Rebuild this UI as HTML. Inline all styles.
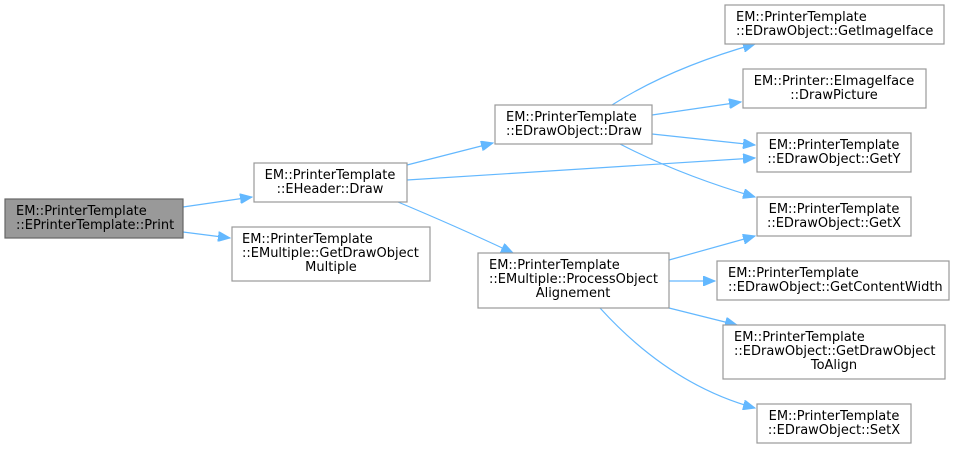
<!DOCTYPE html>
<html><head><meta charset="utf-8"><style>
body{margin:0;background:#fff}
text{font-family:"DejaVu Sans","Liberation Sans",sans-serif;font-size:13px;fill:#000}
.b{fill:#fff;stroke:#999;stroke-width:1.2}
.e{fill:none;stroke:#63b8ff;stroke-width:1.2}
.a{fill:#63b8ff;stroke:#63b8ff}
</style></head><body>
<svg width="957" height="451" xmlns="http://www.w3.org/2000/svg">
<defs><marker id="m" markerWidth="13" markerHeight="10" refX="12" refY="5" orient="auto" markerUnits="userSpaceOnUse"><path d="M0,0 L12,5 L0,10 z" class="a"/></marker></defs>
<g class="e" marker-end="url(#m)">
<path d="M183,207 L252,197"/>
<path d="M183,232 L230,238"/>
<path d="M407,165 L493,143"/>
<path d="M407,180 L755,158"/>
<path d="M398,202 Q460,228 513,253"/>
<path d="M612,105 Q670,68 755,44"/>
<path d="M652,115 L741,102"/>
<path d="M652,134 L755,145"/>
<path d="M620,144 Q680,175 755,197"/>
<path d="M669,260 L755,236"/>
<path d="M669,281 L715,281"/>
<path d="M669,308 L737,325"/>
<path d="M600,308 Q670,385 755,408"/>
</g>
<rect x="5" y="199" width="178" height="39" fill="#999" stroke="#666" stroke-width="1.2"/>
<text x="16" y="215">EM::PrinterTemplate</text><text x="16" y="229">::EPrinterTemplate::Print</text>
<rect class="b" x="254" y="163" width="153" height="39"/>
<text x="330" y="179" text-anchor="middle">EM::PrinterTemplate</text><text x="330" y="193" text-anchor="middle">::EHeader::Draw</text>
<rect class="b" x="232" y="227" width="198" height="54"/>
<text x="242" y="243">EM::PrinterTemplate</text><text x="242" y="257">::EMultiple::GetDrawObject</text><text x="331" y="271" text-anchor="middle">Multiple</text>
<rect class="b" x="495" y="105" width="157" height="39"/>
<text x="506" y="121">EM::PrinterTemplate</text><text x="506" y="135">::EDrawObject::Draw</text>
<rect class="b" x="478" y="253" width="191" height="55"/>
<text x="489" y="269">EM::PrinterTemplate</text><text x="489" y="283">::EMultiple::ProcessObject</text><text x="573" y="297" text-anchor="middle">Alignement</text>
<rect class="b" x="725" y="5" width="219" height="39"/>
<text x="736" y="21">EM::PrinterTemplate</text><text x="736" y="35">::EDrawObject::GetImageIface</text>
<rect class="b" x="743" y="69" width="183" height="39"/>
<text x="834" y="85" text-anchor="middle">EM::Printer::EImageIface</text><text x="834" y="99" text-anchor="middle">::DrawPicture</text>
<rect class="b" x="757" y="133" width="154" height="39"/>
<text x="834" y="149" text-anchor="middle">EM::PrinterTemplate</text><text x="834" y="163" text-anchor="middle">::EDrawObject::GetY</text>
<rect class="b" x="757" y="197" width="154" height="39"/>
<text x="834" y="213" text-anchor="middle">EM::PrinterTemplate</text><text x="834" y="227" text-anchor="middle">::EDrawObject::GetX</text>
<rect class="b" x="717" y="261" width="232" height="39"/>
<text x="728" y="277">EM::PrinterTemplate</text><text x="728" y="291">::EDrawObject::GetContentWidth</text>
<rect class="b" x="723" y="325" width="222" height="54"/>
<text x="734" y="341">EM::PrinterTemplate</text><text x="734" y="355">::EDrawObject::GetDrawObject</text><text x="834" y="369" text-anchor="middle">ToAlign</text>
<rect class="b" x="757" y="404" width="154" height="39"/>
<text x="834" y="420" text-anchor="middle">EM::PrinterTemplate</text><text x="834" y="434" text-anchor="middle">::EDrawObject::SetX</text>
</svg>
</body></html>
